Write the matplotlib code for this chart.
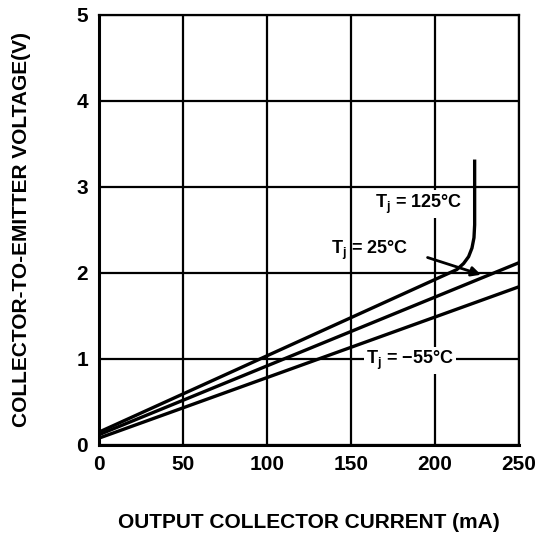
import matplotlib
matplotlib.use("Agg")
import matplotlib.pyplot as plt

plt.rcParams['font.family'] = ['Liberation Sans', 'DejaVu Sans']
plt.rcParams['font.weight'] = 'bold'
plt.rcParams['mathtext.fontset'] = 'custom'
plt.rcParams['mathtext.rm'] = 'Liberation Sans:bold'
plt.rcParams['mathtext.it'] = 'Liberation Sans:bold'

# output collector current (mA) vs collector-emitter voltage (V)
current_125 = [0, 213, 217, 220, 222, 223.2, 223.6, 223.6]
vce_125 = [0.15, 2.04, 2.11, 2.19, 2.29, 2.41, 2.56, 3.3]

current_25 = [0, 250]
vce_25 = [0.12, 2.12]

current_m55 = [0, 250]
vce_m55 = [0.08, 1.84]

x_ticks = [0, 50, 100, 150, 200, 250]
y_ticks = [0, 1, 2, 3, 4, 5]

fig = plt.figure(figsize=(5.42, 5.38), dpi=100)
ax = fig.add_axes([99 / 542, 1 - 445 / 538, 420 / 542, 430 / 538])

ax.set_xlim(0, 250)
ax.set_ylim(0, 5)
ax.set_xticks(x_ticks)
ax.set_yticks(y_ticks)
ax.tick_params(length=0, labelsize=15)
ax.tick_params(axis='x', pad=7)
ax.tick_params(axis='y', pad=8)
ax.grid(True, color='black', linewidth=1.6)
for s in ax.spines.values():
    s.set_linewidth(1.6)
ax.spines['left'].set_linewidth(2.2)
ax.spines['bottom'].set_linewidth(2.2)

ax.plot(current_125, vce_125, color='black', linewidth=2.4)
ax.plot(current_25, vce_25, color='black', linewidth=2.4)
ax.plot(current_m55, vce_m55, color='black', linewidth=2.4)

box = dict(facecolor='white', edgecolor='none', pad=1.5)
ax.text(164, 2.8, r"T$_\mathregular{j}$ = 125°C", fontsize=13, va='center', ha='left', bbox=box)
ax.text(138, 2.26, r"T$_\mathregular{j}$ = 25°C", fontsize=13, va='center', ha='left')
ax.text(159, 0.98, r"T$_\mathregular{j}$ = −55°C", fontsize=13, va='center', ha='left', bbox=box)

ax.annotate('', xy=(229, 1.97), xytext=(194, 2.19),
            arrowprops=dict(arrowstyle='-|>', color='black', lw=2, mutation_scale=14))

fig.text(309 / 542, 1 - 523 / 538, "OUTPUT COLLECTOR CURRENT (mA)", fontsize=15,
         ha='center', va='center')
fig.text(22 / 542, 1 - 230 / 538, "COLLECTOR-TO-EMITTER VOLTAGE(V)", fontsize=15,
         ha='center', va='center', rotation=90)

fig.savefig("out.png", dpi=100)
